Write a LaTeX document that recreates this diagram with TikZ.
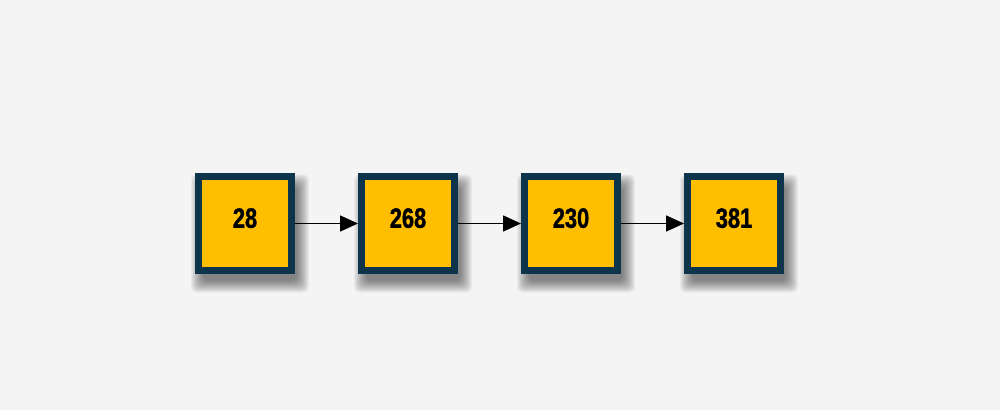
\documentclass[tikz,border=0pt]{standalone}
\usepackage{fontspec}
\newfontfamily\boxfont[FakeStretch=0.78, FakeBold=1.2]{Liberation Sans Bold}
\usepackage{tikz}
\usetikzlibrary{positioning, arrows.meta, calc, backgrounds}
\definecolor{mybg}{HTML}{F4F4F4}
\definecolor{myyellow}{HTML}{FFBE00}
\definecolor{mynavy}{HTML}{0D344A}
\tikzset{>=latex}
\tikzset{listbox/.style = {draw=mynavy, fill=myyellow, line width=7pt, minimum size=93pt, inner sep=0pt,
  text depth=11pt, font=\boxfont\fontsize{28}{28}\selectfont}}
\tikzset{softshade/.style = {black, opacity=0.045, rounded corners=5pt}}
\tikzset{link/.style = {-{Triangle[length=18pt, width=16pt]}, line width=1.6pt}}
\begin{document}
\begin{tikzpicture}[x=1pt, y=1pt, node distance=63pt]
\useasboundingbox (0,0) rectangle (1000,410);
\node[listbox] (n28) at (245, 186.5) {28};
\node[listbox, right=of n28] (n268) {268};
\node[listbox, right=of n268] (n230) {230};
\node[listbox, right=of n230] (n381) {381};
\draw[link] (n28) -- (n268);
\draw[link] (n268) -- (n230);
\draw[link] (n230) -- (n381);
\begin{pgfonlayer}{background}
\fill[mybg] (0,0) rectangle (1000,410);
\foreach \n in {n28, n268, n230, n381}
  \foreach \e in {-3,...,9}
    \fill[softshade] ($(\n.south west)+({5-\e},{-10-\e})$) rectangle ($(\n.north east)+({5+\e},{-10+\e})$);
\end{pgfonlayer}
\end{tikzpicture}
\end{document}
